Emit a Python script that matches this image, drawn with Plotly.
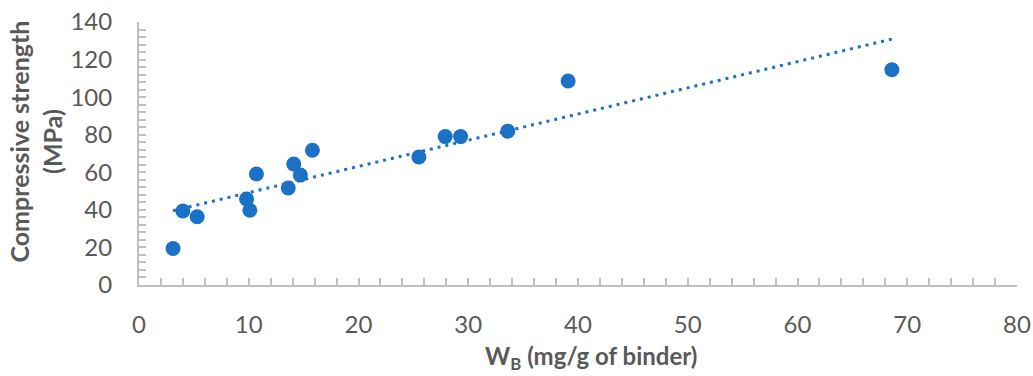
import numpy as np
import plotly.graph_objects as go

# Water absorption of binder vs. compressive strength
wb_mg_per_g = [3.1, 4.0, 5.3, 9.8, 10.1, 10.7, 13.6, 14.1, 14.7, 15.8,
               25.5, 27.9, 29.3, 33.6, 39.1, 68.6]
strength_mpa = [19.4, 39.4, 36.3, 45.8, 39.8, 59.1, 51.6, 64.4, 58.5, 71.7,
                68.1, 79.0, 79.0, 81.9, 108.6, 114.6]

x_ticks = [0, 10, 20, 30, 40, 50, 60, 70, 80]
y_ticks = [0, 20, 40, 60, 80, 100, 120, 140]

BLUE = "#1a71c6"
GRAY_TXT = "#595959"
AXIS = "#bfbfbf"
FONT = "Lato, 'Open Sans', sans-serif"

# Linear least-squares trendline over the data span
slope, intercept = np.polyfit(wb_mg_per_g, strength_mpa, 1)
trend_x = np.array([min(wb_mg_per_g), max(wb_mg_per_g)])
trend_y = slope * trend_x + intercept

fig = go.Figure()
fig.add_trace(go.Scatter(
    x=trend_x, y=trend_y, mode="lines",
    line=dict(color=BLUE, width=3, dash="3px,5px"),
    hoverinfo="skip", showlegend=False,
))
fig.add_trace(go.Scatter(
    x=wb_mg_per_g, y=strength_mpa, mode="markers",
    marker=dict(color=BLUE, size=15, line=dict(width=0)),
    showlegend=False,
))

axis_common = dict(
    showgrid=False, zeroline=False,
    showline=True, linecolor=AXIS, linewidth=2,
    ticks="inside", ticklen=7, tickwidth=1.5, tickcolor=AXIS,
    tickfont=dict(family=FONT, size=24, color=GRAY_TXT),
    automargin=False,
)

fig.update_xaxes(
    range=[0, 80], tickvals=x_ticks, ticktext=[str(v) for v in x_ticks],
    minor=dict(ticks="inside", dtick=2, ticklen=7, tickwidth=1.5, tickcolor=AXIS),
    ticklabelstandoff=17,
    **axis_common,
)
fig.update_yaxes(
    range=[0, 140], tickvals=y_ticks, ticktext=[str(v) for v in y_ticks],
    minor=dict(ticks="inside", dtick=4, ticklen=7, tickwidth=1.5, tickcolor=AXIS),
    ticklabelstandoff=20,
    **axis_common,
)

fig.add_annotation(
    text="W<sub>B</sub> (mg/g of binder)", xref="paper", yref="paper",
    x=0.515, y=-0.274, xanchor="center", yanchor="middle", showarrow=False,
    font=dict(family=FONT, size=24, color=GRAY_TXT, weight="bold"),
)
fig.add_annotation(
    text="Compressive strength<br>(MPa)", xref="paper", yref="paper",
    x=-0.118, y=0.547, xanchor="center", yanchor="middle", showarrow=False,
    textangle=-90,
    font=dict(family=FONT, size=25, color=GRAY_TXT, weight="bold"),
)

fig.update_layout(
    width=1033, height=376,
    margin=dict(l=139, r=16, t=22, b=91, autoexpand=False),
    plot_bgcolor="white", paper_bgcolor="white",
    font=dict(family=FONT, color=GRAY_TXT),
)

fig.write_html("out.html")
